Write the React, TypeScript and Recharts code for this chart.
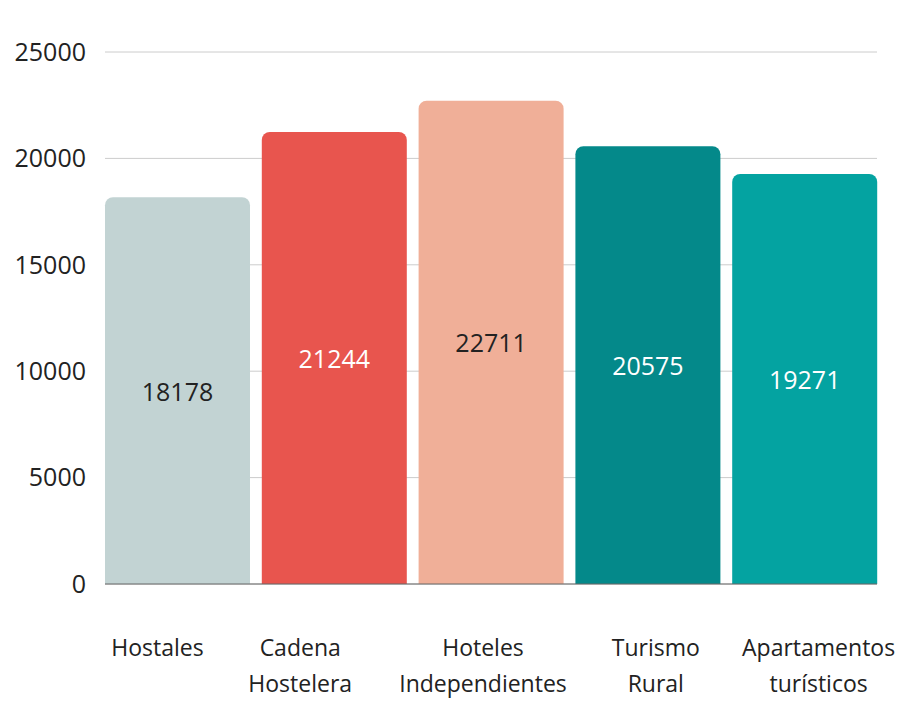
import { BarChart, Bar, XAxis, YAxis, CartesianGrid, Cell, LabelList } from "recharts";

const categories = [
  "Hostales",
  "Cadena Hostelera",
  "Hoteles Independientes",
  "Turismo Rural",
  "Apartamentos turísticos",
];
const values = [18178, 21244, 22711, 20575, 19271];
const yTicks = [0, 5000, 10000, 15000, 20000, 25000];

const barColors = ["#C2D3D3", "#E8554E", "#F0AF98", "#04898A", "#04A3A1"];
const labelColors = ["#222222", "#ffffff", "#222222", "#ffffff", "#ffffff"];
// the category labels in the original sit a little off the bar centres
const labelShift = [-20, -34, -8, 8, 14];

const data = categories.map((name, i) => ({ name, value: values[i] }));

const FONT = "'Open Sans', sans-serif";

function CategoryTick(props: any) {
  const { x, y, payload, index } = props;
  const words = String(payload.value).split(" ");
  return (
    <text
      x={x + labelShift[index]}
      y={y}
      textAnchor="middle"
      fill="#222"
      fontSize={23}
      fontFamily={FONT}
    >
      {words.map((w, i) => (
        <tspan key={i} x={x + labelShift[index]} dy={i === 0 ? 64 : 36}>
          {w}
        </tspan>
      ))}
    </text>
  );
}

function ValueLabel(props: any) {
  const { x, y, width, height, value, index } = props;
  return (
    <text
      x={x + width / 2}
      y={y + height / 2}
      dy={10}
      textAnchor="middle"
      fill={labelColors[index]}
      fontSize={25}
      fontFamily={FONT}
    >
      {value}
    </text>
  );
}

export default function App() {
  return (
    <div style={{ position: "absolute", left: 0, top: 0, background: "#fff" }}>
      <BarChart
        width={898}
        height={721}
        data={data}
        margin={{ top: 52, right: 21, bottom: 17, left: 0 }}
        barCategoryGap={6}
      >
        <CartesianGrid vertical={false} stroke="#cccccc" />
        <XAxis
          dataKey="name"
          height={120}
          interval={0}
          tickLine={false}
          axisLine={{ stroke: "#666666" }}
          padding={{ left: -6, right: -6 }}
          tick={<CategoryTick />}
        />
        <YAxis
          width={105}
          domain={[0, 25000]}
          ticks={yTicks}
          axisLine={false}
          tickLine={false}
          tickMargin={13}
          tick={{ fill: "#222", fontSize: 25, fontFamily: FONT }}
        />
        <Bar dataKey="value" radius={[8, 8, 0, 0]} isAnimationActive={false}>
          {data.map((_, i) => (
            <Cell key={`cell-${i}`} fill={barColors[i]} />
          ))}
          <LabelList dataKey="value" content={<ValueLabel />} />
        </Bar>
      </BarChart>
    </div>
  );
}
